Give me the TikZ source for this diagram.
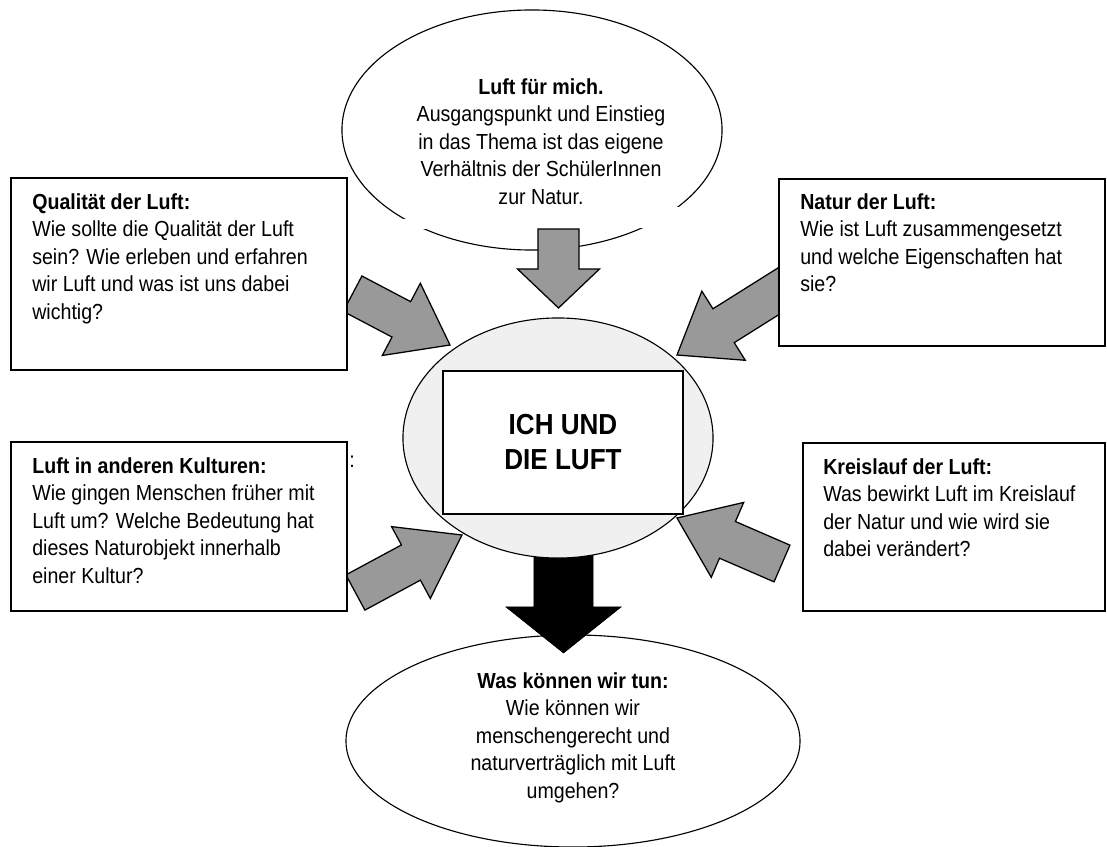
\documentclass[tikz,border=0pt]{standalone}
\usepackage{fontspec}
\setmainfont{Liberation Sans}[FakeStretch=0.9]
\usetikzlibrary{shapes.geometric,calc}

% block arrow: [style]{tail}{tip}{half shaft}{half head}{head length}
\newcommand{\blockarrow}[6][]{%
  \coordinate (hb) at ($(#3)!#6!(#2)$);
  \draw[#1] ($(#2)!#4!90:(#3)$) -- ($(hb)!#4!90:(#3)$) -- ($(hb)!#5!90:(#3)$)
    -- (#3) -- ($(hb)!#5!-90:(#3)$) -- ($(hb)!#4!-90:(#3)$)
    -- ($(#2)!#4!-90:(#3)$) -- cycle;}

\begin{document}
\begin{tikzpicture}[
  x=0.025cm, y=-0.025cm,
  box/.style={draw=black, line width=1pt, fill=white, inner sep=0pt},
  oval/.style={ellipse, draw=black, line width=0.8pt, fill=white, inner sep=0pt},
  txt/.style={inner sep=0pt, align=left, font=\fontsize{15.5}{19.56}\selectfont},
  ctxt/.style={txt, align=center},
  garrow/.style={draw=black, line width=0.9pt, fill=black!40, line join=miter},
  barrow/.style={draw=black, fill=black},
]
\useasboundingbox (0,0) rectangle (1107,847);

% ---------------- goal (bottom) ----------------
\node[oval, minimum width=11.35cm, minimum height=5.3cm] (goal) at (573,741) {};
\node[ctxt, anchor=north] (goaltxt) at (573,672)
  {\textbf{Was können wir tun:}\\ Wie können wir\\ menschengerecht und\\
   naturverträglich mit Luft\\ umgehen?};

% ---------------- black arrow ----------------
\coordinate (btail) at (563.5,540);
\coordinate (btip) at (563.5,653);
\blockarrow[barrow]{btail}{btip}{0.7375cm}{1.4375cm}{1.15cm}

% ---------------- core ----------------
\node[oval, fill=gray!12, minimum width=7.75cm, minimum height=6cm] (core) at (558,438) {};
\node[box, line width=0.9pt, minimum width=6cm, minimum height=3.575cm] (title) at (563,442.5) {};
\node[ctxt, anchor=north, font=\fontsize{20.6}{24.9}\selectfont\bfseries] (titletxt) at (563,413.5)
  {ICH UND\\ DIE LUFT};

% ---------------- start (top) ----------------
\node[oval, minimum width=9.5cm, minimum height=6cm] (start) at (532,130) {};
\fill[white] (395,219) rectangle (440,229);
\fill[white] (630,207) rectangle (690,228);
\node[ctxt, anchor=north] (starttxt) at (541,78)
  {\textbf{Luft für mich.}\\ Ausgangspunkt und Einstieg\\ in das Thema ist das eigene\\
   Verhältnis der SchülerInnen\\ zur Natur.};

% ---------------- gray arrows ----------------
\coordinate (ttail) at (558.5,229);  \coordinate (ttip) at (558.5,308);
\blockarrow[garrow]{ttail}{ttip}{0.5125cm}{1.025cm}{0.975cm}
\coordinate (ultail) at (352.6,293.7); \coordinate (ultip) at (450,345);
\blockarrow[garrow]{ultail}{ultip}{0.5cm}{1.02cm}{1.375cm}
\coordinate (urtail) at (790,284);   \coordinate (urtip) at (677,355);
\blockarrow[garrow]{urtail}{urtip}{0.5cm}{1.02cm}{1.375cm}
\coordinate (lltail) at (355.4,592.5); \coordinate (lltip) at (462,535);
\blockarrow[garrow]{lltail}{lltip}{0.5cm}{1.02cm}{1.45cm}
\coordinate (lrtail) at (782,563.5); \coordinate (lrtip) at (677,518);
\blockarrow[garrow]{lrtail}{lrtip}{0.5cm}{1.02cm}{1.375cm}

% ---------------- side boxes ----------------
\node[box, minimum width=8.4cm, minimum height=4.8cm] (qual) at (179,274) {};
\node[txt, anchor=north west] (qualtxt) at (32,193)
  {\textbf{Qualität der Luft:}\\ Wie sollte die Qualität der Luft\\ sein? Wie erleben und erfahren\\
   wir Luft und was ist uns dabei\\ wichtig?};

\node[box, minimum width=8.15cm, minimum height=4.175cm] (natur) at (942,262.5) {};
\node[txt, anchor=north west] (naturtxt) at (800,193)
  {\textbf{Natur der Luft:}\\ Wie ist Luft zusammengesetzt\\ und welche Eigenschaften hat\\ sie?};

\node[box, minimum width=8.4cm, minimum height=4.225cm] (kult) at (179,526.5) {};
\node[txt, anchor=north west] (kulttxt) at (32,457)
  {\textbf{Luft in anderen Kulturen:}\\ Wie gingen Menschen früher mit\\ Luft um? Welche Bedeutung hat\\
   dieses Naturobjekt innerhalb\\ einer Kultur?};

\node[box, minimum width=7.55cm, minimum height=4.2cm] (kreis) at (954,527) {};
\node[txt, anchor=north west] (kreistxt) at (823,458)
  {\textbf{Kreislauf der Luft:}\\ Was bewirkt Luft im Kreislauf\\ der Natur und wie wird sie\\
   dabei verändert?};

\node[txt, anchor=base] (colon) at (352,467) {:};

\end{tikzpicture}
\end{document}
